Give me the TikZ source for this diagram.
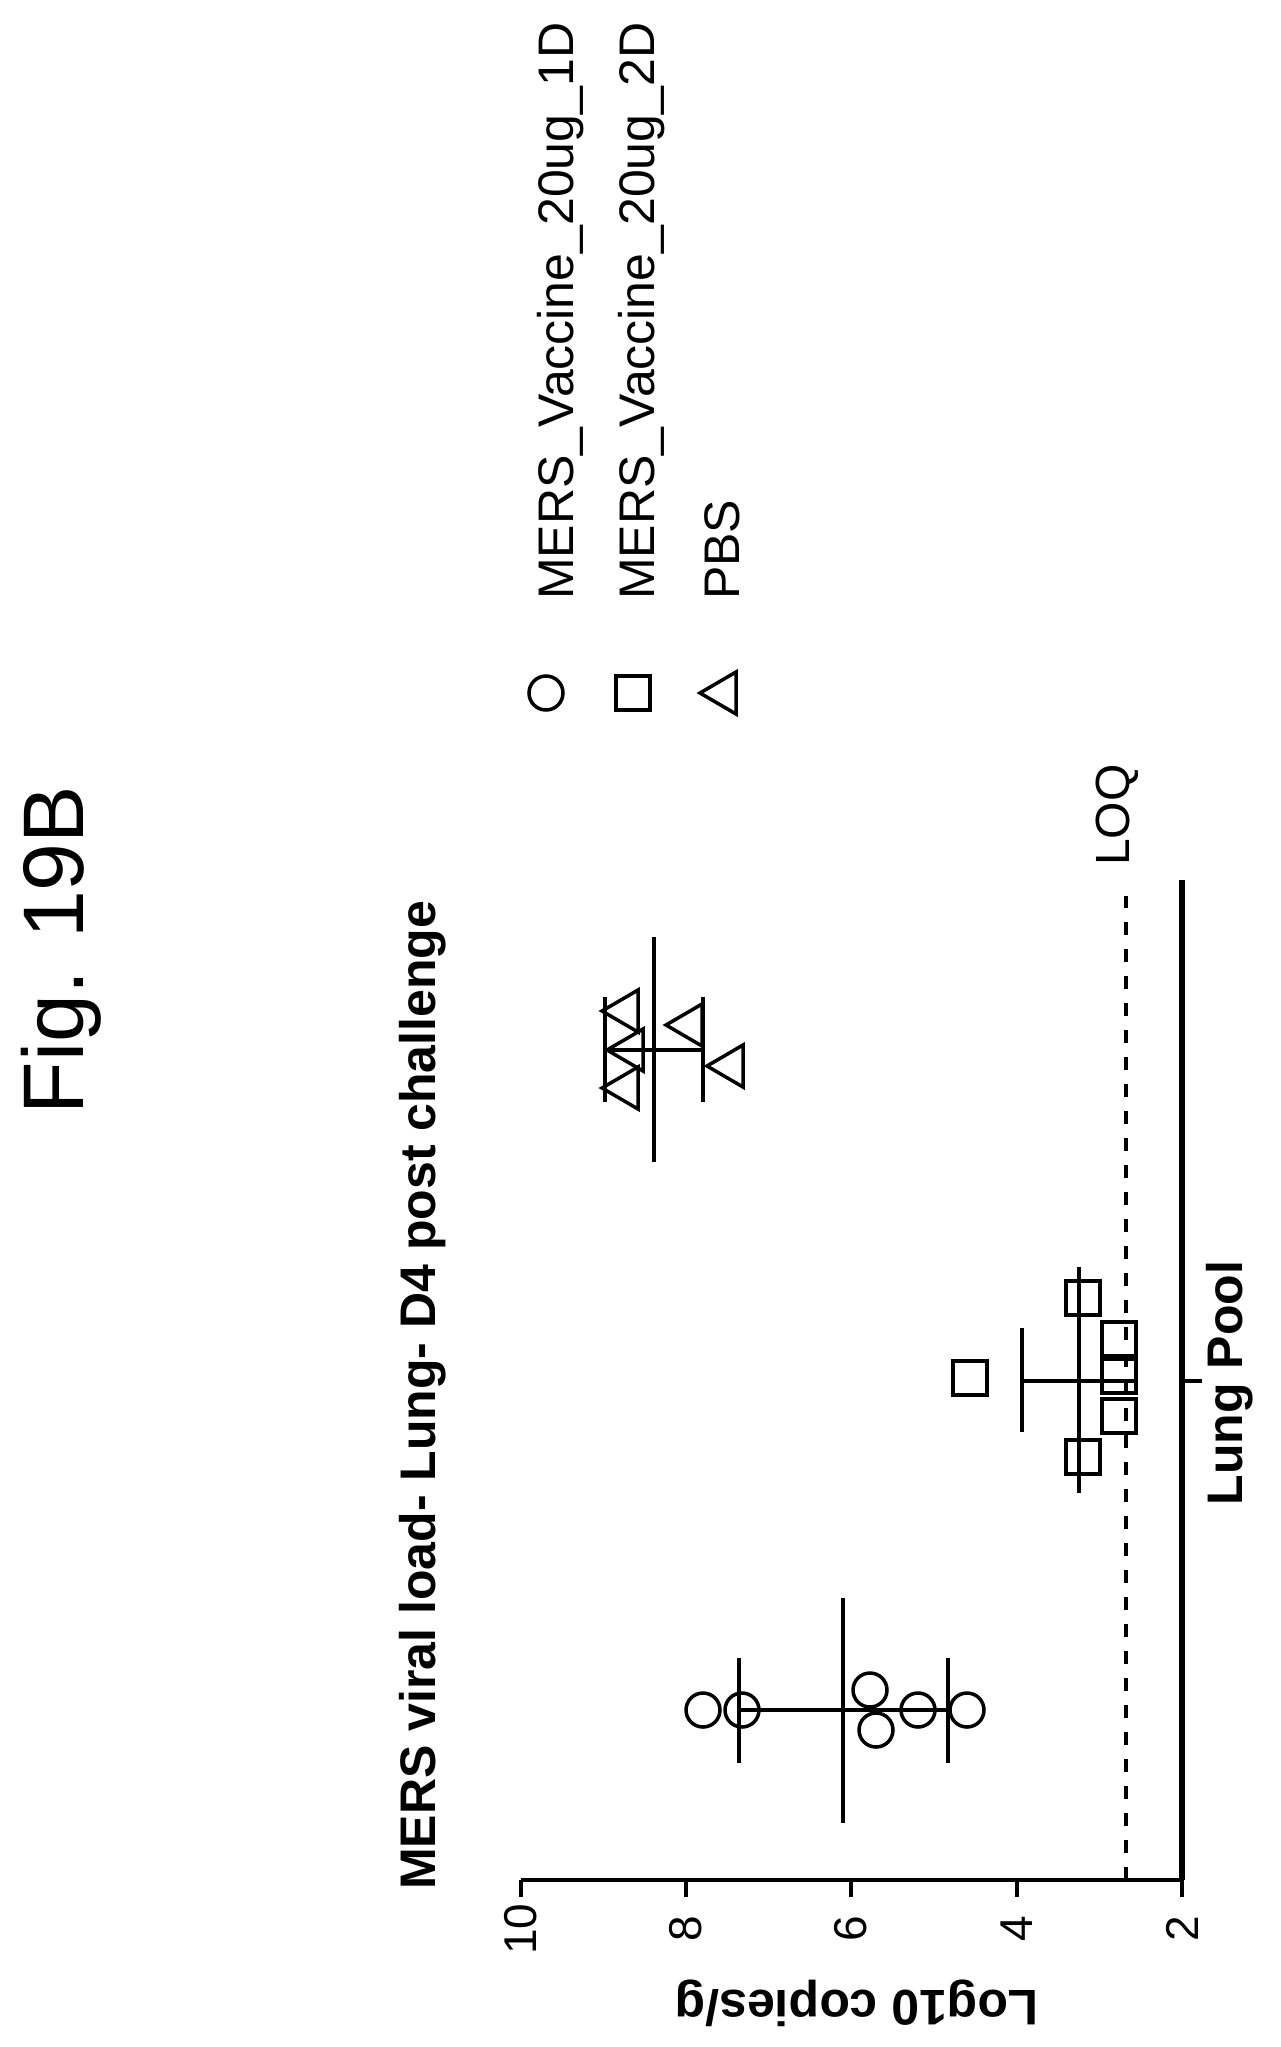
\documentclass[tikz,border=0pt]{standalone}
\usepackage{fontspec}
\setmainfont{Liberation Sans}
\begin{document}
\begin{tikzpicture}[x=1pt,y=-1pt,
  dat/.style={line width=4pt},
  mk/.style={line width=3.5pt},
  reg/.style={font=\fontsize{50}{60}\selectfont, inner sep=0pt},
  bld/.style={font=\fontsize{50}{60}\selectfont\bfseries, inner sep=0pt}]
\useasboundingbox (0,0) rectangle (1280,2047);
\def\tri#1#2{\draw[mk] (#1,#2) -- ++(36,-21) -- ++(0,42) -- cycle;}
% title
\node[bld, rotate=90, anchor=base west] (title) at (435,1890) {MERS viral load- Lung- D4 post challenge};
\node[reg, rotate=90, anchor=base, font=\fontsize{86}{100}\selectfont] (fig) at (83,950) {Fig. 19B};
% axes
\coordinate (a10) at (521,1880); \coordinate (a2) at (1182,1880);
\draw[line width=4pt] (a10) -- (a2);
\foreach \v/\x in {10/521,8/686,6/851,4/1017,2/1182}{
  \draw[line width=4pt] (\x,1880) -- (\x,1897);
  \node[reg, rotate=90, font=\fontsize{46}{50}\selectfont] (t\v) at (\x,1929) {\v};
}
\node[bld, rotate=180] (ylab) at (857,2003) {Log10 copies/g};
\coordinate (c1) at (1182,880); \coordinate (c2) at (1182,1880);
\draw[line width=6pt] (c1) -- (c2);
\draw[line width=4pt] (1182,1381) -- (1202,1381);
\node[bld, rotate=90] (lp) at (1230,1383) {Lung Pool};
% LOQ
\coordinate (l1) at (1126,896); \coordinate (l2) at (1126,1880);
\draw[line width=4pt, dash pattern=on 13pt off 14pt] (l2) -- (l1);
\node[reg, rotate=90, font=\fontsize{48}{50}\selectfont] (loq) at (1117,815) {LOQ};
% circles group
\draw[dat] (843,1598) -- (843,1823);
\draw[dat] (739,1658) -- (739,1763);
\draw[dat] (948,1658) -- (948,1763);
\draw[dat] (739,1710) -- (948,1710);
\foreach \x/\y in {703/1710,742/1710,870/1690,876/1730,918/1710,967/1710}
  \draw[mk] (\x,\y) circle (17);
% squares group
\draw[dat] (1079,1267) -- (1079,1493);
\draw[dat] (1022,1328) -- (1022,1432);
\draw[dat] (1022,1381) -- (1137,1381);
\foreach \x/\y in {970/1378,1083/1298,1083/1457,1119/1339,1119/1376,1119/1416}
  \draw[mk] (\x-17,\y-17) rectangle (\x+17,\y+17);
% triangles group
\draw[dat] (654,937) -- (654,1162);
\draw[dat] (605,997) -- (605,1102);
\draw[dat] (703,997) -- (703,1102);
\draw[dat] (605,1050) -- (703,1050);
\tri{602}{1011}\tri{607}{1050}\tri{602}{1088}\tri{666}{1025}\tri{707}{1066}
% legend
\draw[mk] (546,693) circle (17);
\draw[mk] (616,676) rectangle (650,710);
\tri{700}{693}
\node[reg, rotate=90, anchor=base west] (lg1) at (573,600) {MERS\_Vaccine\_20ug\_1D};
\node[reg, rotate=90, anchor=base west] (lg2) at (654,600) {MERS\_Vaccine\_20ug\_2D};
\node[reg, rotate=90, anchor=base west] (lg3) at (739,600) {PBS};
\end{tikzpicture}
\end{document}
